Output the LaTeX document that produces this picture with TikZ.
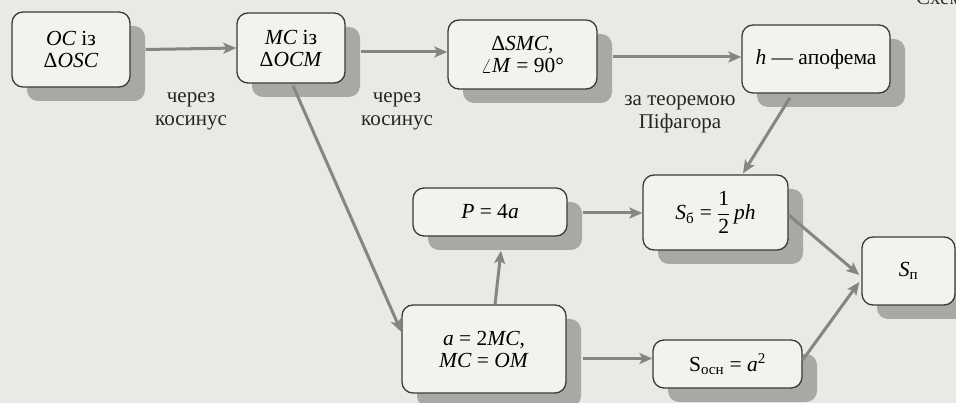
\documentclass[tikz,border=0pt]{standalone}
\usepackage{fontspec}
\setmainfont{Liberation Serif}
\usepackage{amsmath}
\usetikzlibrary{shadows,arrows.meta,calc}
\definecolor{paper}{HTML}{EAE9E5}
\definecolor{boxfill}{HTML}{F3F2EF}
\definecolor{boxline}{HTML}{3A3A3A}
\definecolor{shadowc}{HTML}{A8A8A5}
\definecolor{arrowc}{HTML}{858585}
\newcommand\boxfont{\fontsize{21.5}{22}\selectfont}
\newcommand\lblfont{\fontsize{21}{23}\selectfont}
\begin{document}
\begin{tikzpicture}[x=1pt,y=-1pt,
  box/.style={draw=boxline, line width=1.3pt, rounded corners=11pt, fill=boxfill,
    inner sep=0pt, align=center, font=\boxfont,
    drop shadow={shadow xshift=15pt, shadow yshift=-14pt, fill=shadowc, opacity=1}},
  arr/.style={draw=arrowc, line width=3pt, -{Stealth[length=13pt,width=11pt,inset=3pt]}},
  lbl/.style={align=center, font=\lblfont, inner sep=0pt, text=black!85}]
\useasboundingbox (0,0) rectangle (956,403);
\fill[paper] (0,0) rectangle (956,403);
\clip (0,0) rectangle (956,403);

\node[anchor=base west, font=\lblfont, inner sep=0pt, text=black!80] (cap) at (916,5) {Схема};

\node[box, minimum width=118pt, minimum height=75pt] (n1) at (71,49.5) {\textit{OC} із\\ Δ\textit{OSC}};
\node[box, minimum width=108pt, minimum height=70pt] (n2) at (291,48) {\textit{MC} із\\ Δ\textit{OCM}};
\node[box, minimum width=149pt, minimum height=69pt] (n3) at (522.5,54.5) {Δ\textit{SMC},\\ $\angle$\textit{M} = 90°};
\node[box, minimum width=148pt, minimum height=68pt] (n4) at (816,59) {\textit{h} — апофема};
\node[box, minimum width=154pt, minimum height=48pt] (n5) at (490,212) {\textit{P} = 4\textit{a}};
\node[box, minimum width=145pt, minimum height=75pt] (n6) at (715.5,212.5) {\textit{S}\textsubscript{б} = $\dfrac{\text{1}}{\text{2}}$\,\textit{ph}};
\node[box, minimum width=164pt, minimum height=88pt] (n7) at (484,349) {\textit{a} = 2\textit{MC},\\ \textit{MC} = \textit{OM}};
\node[box, minimum width=149pt, minimum height=48pt] (n8) at (727.5,364) {S\textsubscript{осн} = \textit{a}\textsuperscript{2}};
\node[box, minimum width=93pt, minimum height=68pt] (n9) at (908.5,271) {\textit{S}\textsubscript{п}};

\node[lbl] (l1) at (191,111) {через\\ косинус};
\node[lbl] (l2) at (397,111) {через\\ косинус};
\node[lbl] (l3) at (680,114) {за теоремою\\ Піфагора};

\draw[arr] ($(n1.east)+(15,0)$) -- (n2.west);
\draw[arr] ($(n2.east)+(15,4)$) -- ($(n3.west)+(0,-2.5)$);
\draw[arr] ($(n3.east)+(15,2.5)$) -- ($(n4.west)+(0,-2)$);
\draw[arr] ($(n4.south)+(-26,4)$) -- ($(n6.north)+(27.5,-1)$);
\draw[arr] ($(n2.south)+(2,2)$) -- ($(n7.west)+(0,-17)$);
\draw[arr] ($(n7.north)+(11,0)$) -- ($(n5.south)+(11,14)$);
\draw[arr] ($(n5.east)+(15,1)$) -- ($(n6.west)+(0,0.5)$);
\draw[arr] ($(n7.east)+(16,9.5)$) -- ($(n8.west)+(0,-5.5)$);
\draw[arr] ($(n6.east)+(0,2.5)$) -- ($(n9.west)+(-2,4)$);
\draw[arr] ($(n8.east)+(0,-4)$) -- ($(n9.west)+(-2,11)$);
\end{tikzpicture}
\end{document}
